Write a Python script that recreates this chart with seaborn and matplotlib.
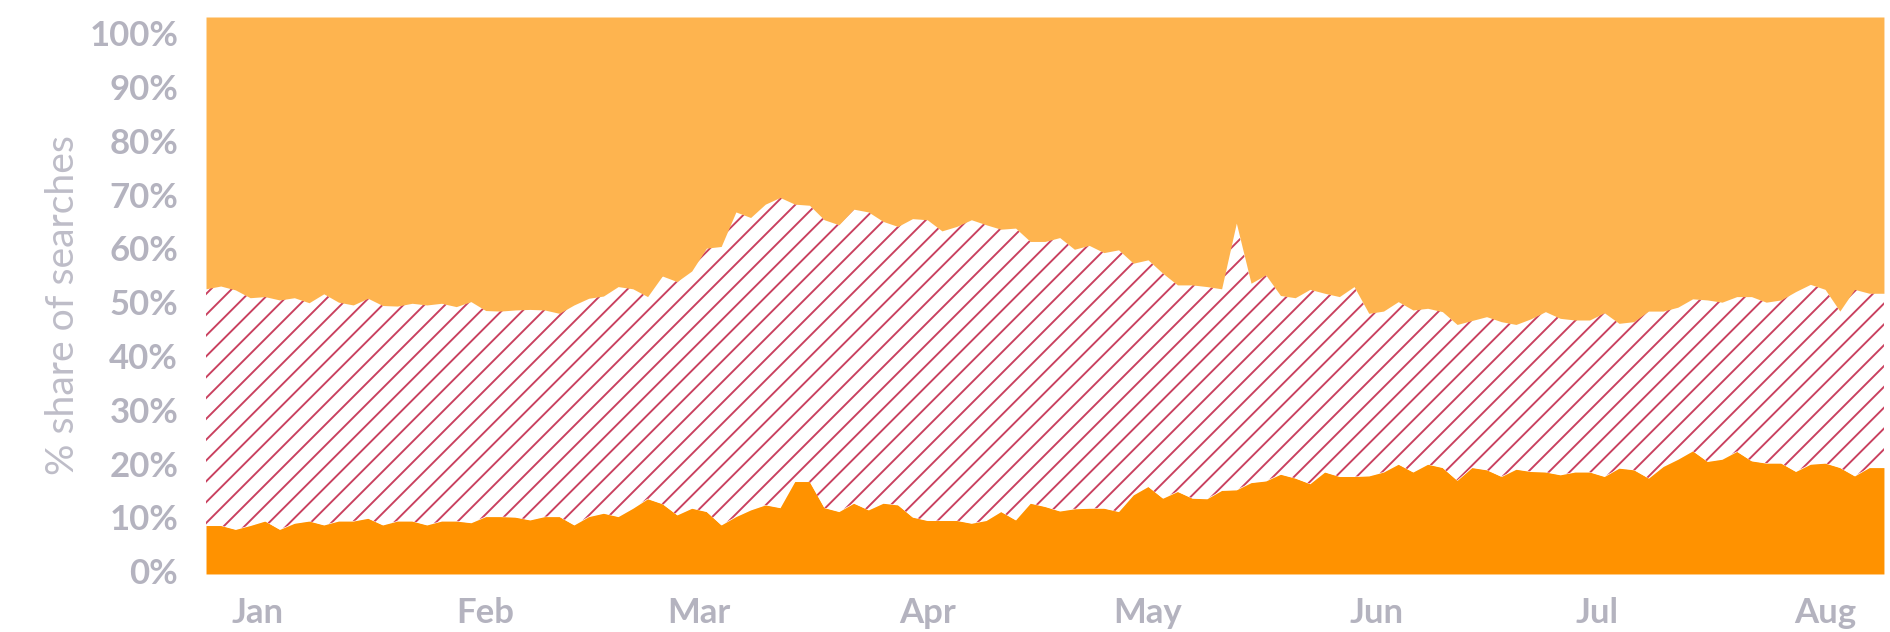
import numpy as np
import pandas as pd
import matplotlib
matplotlib.use('Agg')
import matplotlib.pyplot as plt
import seaborn as sns

# Daily-ish samples (every 2 days)
START_DATE = '2019-12-25'
STEP = '2D'

# top edge of the dark orange band (% share, cumulative)
lower_edge = [
    8.7, 8.7, 8.0, 8.7, 9.5, 8.0, 9.1, 9.5, 8.8, 9.5, 9.5, 10.0, 8.8, 9.5, 9.5,
    8.8, 9.5, 9.5, 9.2, 10.3, 10.3, 10.2, 9.7, 10.3, 10.3, 8.8, 10.3, 10.9, 10.3,
    11.8, 13.5, 12.6, 10.6, 11.8, 11.2, 8.8, 10.3, 11.5, 12.4,
    11.9, 16.6, 16.6, 11.9, 11.2, 12.7, 11.5, 12.7, 12.4, 10.2, 9.6, 9.6, 9.6,
    9.1, 9.6, 11.2, 9.7, 12.7, 12.1, 11.3, 11.7, 11.8, 11.8, 11.2, 14.2, 15.7,
    13.6, 14.8, 13.6, 13.5, 15.0, 15.1, 16.4, 16.7, 17.9, 17.2, 16.2, 18.3,
    17.5, 17.5, 17.6, 18.3, 19.7, 18.3, 19.7, 19.1, 16.8, 19.1, 18.7, 17.5,
    18.8, 18.4, 18.3, 17.8, 18.3, 18.3, 17.5, 19.0, 18.7, 17.2, 19.3, 20.6,
    22.1, 20.2, 20.6, 22.0, 20.3, 19.9, 19.9, 18.4, 19.7, 19.9, 19.1, 17.6,
    19.1, 19.1,
]

# top edge of the hatched band (% share, cumulative)
upper_edge = [
    51.2, 51.7, 51.0, 49.6, 49.8, 49.2, 49.6, 48.7, 50.3, 48.8, 48.3, 49.5,
    48.2, 48.1, 48.6, 48.3, 48.6, 48.0, 48.9, 47.3, 47.2, 47.4, 47.5, 47.4,
    46.8, 48.3, 49.5, 49.9, 51.6, 51.2, 49.8, 53.5, 52.5, 54.4, 58.5, 58.8,
    65.0, 64.0, 66.4,
    67.6, 66.4, 66.2, 63.6, 62.7, 65.5, 65.0, 63.3, 62.4, 63.8, 63.6, 61.6,
    62.4, 63.6, 62.7, 61.9, 62.1, 59.7, 59.7, 60.4, 58.3, 59.0, 57.7, 58.2,
    55.8, 56.4, 54.0, 51.9, 51.9, 51.6, 51.2, 63.0, 52.2, 53.7, 50.0, 49.6,
    51.1, 50.4,
    49.8, 51.6, 46.8, 47.2, 48.9, 47.4, 47.7, 47.1, 44.8, 45.5, 46.2, 45.3,
    44.8, 45.8, 47.1, 45.9, 45.6, 45.6, 46.9, 45.0, 45.3, 47.2, 47.2, 47.9,
    49.4, 49.2, 48.8, 49.8, 49.8, 48.8, 49.2, 50.7, 52.0, 51.1, 47.2, 51.1,
    50.4, 50.4,
]

TICK_LABELS = ['0%', '10%', '20%', '30%', '40%', '50%', '60%', '70%', '80%', '90%', '100%']
MONTHS = ['Jan', 'Feb', 'Mar', 'Apr', 'May', 'Jun', 'Jul', 'Aug']

DARK = '#FF9200'
LIGHT = '#FEB44F'
HATCH = '#C9405F'
GREY = '#B4B3BF'

sns.set_style('white')
plt.rcParams['font.family'] = ['Lato', 'DejaVu Sans']
plt.rcParams['hatch.linewidth'] = 1.1

dates = pd.date_range(START_DATE, periods=len(lower_edge), freq=STEP)
lo = np.array(lower_edge)
up = np.array(upper_edge)
shares = [lo, up - lo, 100 - up]

fig = plt.figure(figsize=(15.12, 5.056), dpi=125)
ax = fig.add_axes([0.109, 0.0918, 0.8878, 0.8813])

polys = ax.stackplot(dates, *shares, colors=[DARK, 'white', LIGHT], linewidth=0)
polys[1].set_hatch('//')
polys[1].set_edgecolor(HATCH)
polys[1].set_linewidth(0)

ax.set_xlim(dates[0], dates[-1])
ax.set_ylim(0, 100)

ax.set_yticks(np.linspace(0.5, 97.1, 11))
ax.set_yticklabels(TICK_LABELS)
month_ticks = pd.date_range('2020-01-01', periods=len(MONTHS), freq='MS')
ax.set_xticks(month_ticks)
ax.set_xticklabels(MONTHS)

ax.tick_params(axis='y', length=0, pad=16, labelsize=20, labelcolor=GREY)
ax.tick_params(axis='x', length=0, pad=13, labelsize=20, labelcolor=GREY)
for lab in ax.get_xticklabels() + ax.get_yticklabels():
    lab.set_fontweight('bold')

sns.despine(ax=ax, left=True, bottom=True)
ax.grid(False)

fig.text(63 / 1890, 1 - 305 / 632, '% share of searches', rotation=90,
         ha='center', va='center', fontsize=22.5, color='#BEBDC8', fontweight='normal')

fig.savefig('out.png', dpi=125)
